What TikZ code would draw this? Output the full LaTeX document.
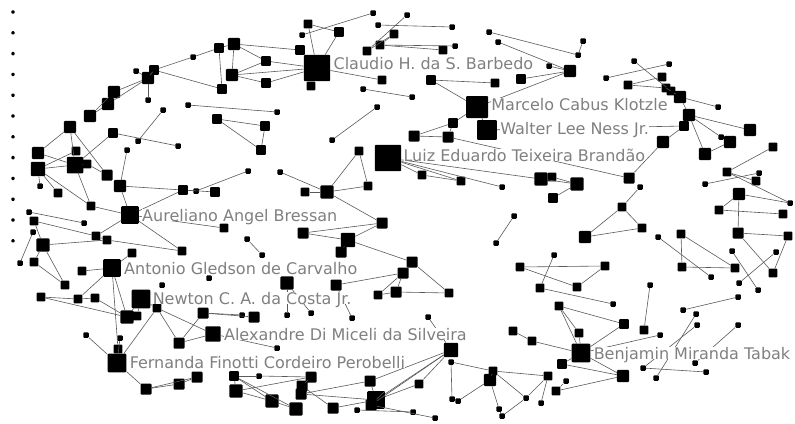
\documentclass[tikz,border=0pt]{standalone}
\usepackage{fontspec}
\setmainfont{DejaVu Sans}
\usetikzlibrary{positioning}
\definecolor{labelgray}{RGB}{128,128,128}
\tikzset{
  sqnode/.style={fill=black, rounded corners=1pt, inner sep=0pt, minimum size=1.1*#1pt},
  tie/.style={draw=black!65, line width=0.6pt},
  authorlbl/.style={text=labelgray, fill=white, inner sep=0pt, text height=12pt, text depth=0pt,
    font=\fontsize{16}{19}\selectfont},
}
\begin{document}
\begin{tikzpicture}[x=1pt,y=-1pt]
  \useasboundingbox (0,0) rectangle (795,423);
  %% loose authors
  \foreach \k in {0,...,11}
    \node[sqnode=3] (iso\k) at (13,{12+20.8*\k}) {};
  %% hubs
  \node[sqnode=24] (claudio) at (317,68) {};
  \node[sqnode=20] (marcelo) at (477,107) {};
  \node[sqnode=18] (walter) at (487,130) {};
  \node[sqnode=24] (luiz) at (388,158) {};
  \node[sqnode=16] (aureliano) at (130,215) {};
  \node[sqnode=16] (antonio) at (112,268) {};
  \node[sqnode=17] (newton) at (141,299) {};
  \node[sqnode=14] (alexandre) at (213,334) {};
  \node[sqnode=17] (fernanda) at (117,363) {};
  \node[sqnode=17] (benjamin) at (581,353) {};
  %% other authors
  \foreach \n/\x/\y/\s in {
    u1/193/57/5, u2/219/48/9, u3/234/44/11, u4/154/70/9, u5/136/71/5, u6/148/78/11,
    u7/148/100/5, u8/114/92/11, u9/108/104/11, u10/90/116/11, u11/222/89/9, u12/232/75/11,
    u13/266/61/9, u14/266/83/9, u15/188/105/5, u16/163/110/5, u17/217/119/9, u18/265/126/9,
    u19/261/150/9, u20/70/127/11, u21/113/133/9, u22/138/141/5, u23/178/146/5, u24/38/153/11,
    u25/76/151/8, u26/38/169/13, u27/75/165/15, u28/87/164/8, u29/107/175/10, u30/40/186/5,
    u31/58/193/8, u32/127/150/5, u33/120/186/11, u34/91/206/8, u35/183/190/9, u36/196/191/5,
    u37/215/192/9, u38/248/171/5, u40/332/140/5, u41/280/172/5, u42/277/112/5,
    c1/308/24/8, c2/302/35/5, c3/339/32/9, c4/373/13/5, c5/407/15/5, c6/378/25/5,
    c7/452/27/5, c8/394/34/8, c9/380/45/8, c10/367/51/8, c11/443/50/8, c12/455/46/5,
    c13/300/50/9, c14/311/86/8, c15/382/80/8, c16/363/89/5, c17/412/97/5, c18/377/107/5,
    c20/359/151/8, c21/305/192/8, c22/327/192/12, c23/368/186/8,
    m1/431/80/9, m2/495/83/8, m3/521/79/9, m4/489/32/5, m5/498/42/5, m6/549/66/5,
    m7/570/71/11, m8/578/55/5, m9/453/123/9, m10/414/136/10, m11/448/137/10, m12/422/175/8,
    m13/461/181/8, m14/502/187/5, m15/541/179/12, m16/552/177/8, m17/577/184/12, m18/553/198/9,
    r1/583/41/5, r2/634/61/5, r3/669/64/5, r4/606/78/5, r5/662/77/8, r6/628/85/8,
    r7/666/88/8, r8/671/91/8, r9/680/97/11, r10/718/107/5, r11/689/115/11, r12/684/126/9,
    r13/750/130/11, r14/663/142/11, r15/721/137/5, r16/730/142/11, r17/705/154/11, r18/629/178/10,
    r19/640/187/5, r20/773/147/8, r21/727/172/8, r22/759/173/5, r23/756/181/8, r24/705/184/5,
    r25/622/207/8, r26/642/228/8, r27/585/237/11, r28/739/194/11, r29/719/210/8, r30/783/214/8,
    r31/790/203/5, r32/738/233/10, r33/788/236/8, r34/681/234/8, r35/658/237/5, r36/554/255/5,
    r37/732/251/5, r38/776/252/5, r39/520/267/8, r40/605/266/8, r41/682/267/8, r42/735/268/8,
    r43/711/277/5, r44/773/273/8, r45/739/283/5, r46/758/290/5, r47/540/288/8, r48/577/287/8,
    r49/613/304/5, r50/738/297/5, r51/650/285/5, r52/683/310/5, r53/696/314/5, r54/559/306/8,
    r55/624/324/9, r56/697/325/5, r57/738/325/5, r58/644/330/8, r59/660/335/5, r60/579/333/8,
    r61/532/341/8, r62/562/364/9, r63/623/376/11, r64/643/368/5, r65/656/378/5, r66/695/363/5,
    r67/706/372/5, r68/548/376/8, r69/566/381/5, r70/556/391/8, r71/526/398/5, r72/541/403/5,
    r73/514/216/5, r74/496/243/5, r75/513/331/8,
    l1/29/212/5, l2/34/221/8, l3/84/223/5, l4/33/232/5, l5/43/245/12, l6/96/236/8,
    l7/107/240/8, l8/182/251/8, l9/224/228/8, l10/247/239/5, l11/132/253/8, l12/20/263/5,
    l13/34/262/8, l14/65/285/8, l15/82/271/8, l16/209/278/5, l17/162/285/5, l18/41/297/8,
    l19/78/299/8, l20/95/298/8, l21/127/317/12, l22/137/316/8, l23/157/308/8, l24/203/313/10,
    l25/242/315/5, l26/254/317/10, l27/179/343/10, l28/86/335/5, l29/120/338/5, l30/118/349/8,
    l31/146/389/10, l32/179/384/10, l33/197/377/10, l34/262/255/5,
    k1/303/233/10, k2/348/240/13, k3/382/223/10, k4/341/252/10, k5/412/262/10, k6/403/273/10,
    k7/336/285/10, k8/378/295/8, k9/396/292/10, k10/449/293/8, k11/287/283/12, k12/287/315/5,
    k13/311/313/5, k14/352/318/5, k15/428/317/5, k16/277/348/5,
    b1/234/376/9, b2/259/376/5, b3/236/391/12, b4/272/401/12, b5/296/409/12, b6/311/377/10,
    b7/302/386/10, b8/301/394/10, b9/333/408/10, b10/370/381/10, b11/376/400/16, b12/371/405/10,
    b13/357/410/5, b14/413/412/5, b15/435/418/5, b16/419/384/8, b17/451/350/13, b18/451/362/5,
    b19/452/399/5, b20/458/401/5, b21/493/371/8, b22/490/380/11, b24/499/409/5, b25/502/416/5}
    \node[sqnode=\s] (\n) at (\x,\y) {};
  %% co-authorship links
  \foreach \a/\b in {
    u1/u2, u2/u3, u4/u1, u2/u11, u4/u11, u3/u12, u3/u13, u12/u13, u12/u14, u5/u6, u6/u7,
    u6/u4, u6/u8, u6/u9, u8/u10, u9/u10, u15/u42, u17/u18, u18/u19, u17/u19, u16/u22,
    u21/u23, u20/u24, u20/u27, u20/u29, u24/u27, u27/u21, u27/u26, u26/u25, u26/u31,
    u26/u34, u27/u34, u27/u28, u28/u29, u30/u26, u32/u33, u33/u35, u33/aureliano, u36/u38,
    u35/u37, u35/u36, u35/aureliano, u40/c18, u41/c22, u13/claudio, u14/claudio,
    u12/claudio, u3/c13,
    claudio/c1, claudio/c3, claudio/c13, claudio/c14, claudio/c15, c1/c3, c2/c4, c6/c7,
    c5/c10, c9/c11, c9/c12, c8/c10, c8/c9, c16/c17, c20/c22, c21/c22, c22/c23, c20/c23,
    c22/k3,
    m1/m2, m1/marcelo, marcelo/m9, m9/m10, m10/m11, m9/m11, marcelo/walter, m4/m8, m5/m7,
    m3/m7, m6/m7, m7/marcelo, luiz/m12, luiz/m13, m12/m13, luiz/m14, luiz/m15, m15/m16,
    m15/m17, m16/m17, m18/m17, r18/m11, walter/r12, r1/m8,
    r2/r8, r4/r3, r6/r5, r6/r7, r7/r8, r8/r9, r9/r10, r9/r11, r11/r13, r11/r15, r11/r17,
    r17/r16, r11/r12, r12/r14, r14/r18, r20/r21, r21/r31, r24/r22, r21/r23, r28/r29,
    r29/r30, r28/r31, r28/r32, r32/r33, r34/r41, r34/r42, r41/r42, r35/r43, r37/r46,
    r38/r45, r33/r44, r32/r44, r19/r25, r25/r27, r27/r26, r25/r26, r36/r47, r39/r40,
    r39/r48, r48/r40, r47/r49, r51/r58, r52/r50, r54/r55, r54/r60, r60/benjamin,
    benjamin/r61, benjamin/r62, benjamin/r63, r62/r63, r70/r63, r68/r71, r68/r72, r69/r70,
    r64/r67, r57/r66, r56/r64, r53/r65, r59/benjamin, r55/benjamin, r73/r74, r75/r61,
    r54/benjamin,
    l1/l3, l2/l6, l2/l5, l6/l7, l5/l7, l7/l8, l6/aureliano, aureliano/u34, aureliano/l8,
    l9/aureliano, l10/l34, l4/l12, l13/l14, l5/l14, l5/l13, antonio/l15, antonio/l11,
    antonio/l21, antonio/l30, antonio/l19, l18/l19, l18/l21, l19/l20, l20/l21, newton/l23,
    newton/l21, l22/newton, l23/l27, l23/alexandre, l23/fernanda, l27/l24, l27/alexandre,
    l24/l25, l24/l26, l28/fernanda, fernanda/l29, l30/fernanda, fernanda/l31, l31/l32,
    l32/l33, l31/l33,
    k1/k2, k1/k3, k2/k3, k2/k5, k2/k4, k5/k10, k6/k7, k6/k8, k6/k9, k8/k9, k9/k10, k6/k5,
    k14/k7, k13/k11, k12/k11, k15/b17, k16/alexandre,
    b17/b11, b17/b10, b17/b16, b17/b12, b18/b19, b18/b21, b22/b20, b22/b24, b21/r71,
    b21/r68, b24/b25, b25/r71, b10/b11, b11/b16, b11/b12, b13/b14, b15/b12, b6/b2, b6/b7,
    b7/b9, b8/b11, b8/b10, b4/b5, b1/b2, b1/b3, b3/b4, b1/b4, b1/b5, b3/b6, b9/b11, b21/b22}
    \draw[tie] (\a) -- (\b);
  %% names
  \node[authorlbl, right=3pt of claudio, yshift=5pt] (claudiolbl) {Claudio H. da S. Barbedo};
  \node[authorlbl, right=3pt of marcelo, yshift=3pt] (marcelolbl) {Marcelo Cabus Klotzle};
  \node[authorlbl, right=3pt of walter, yshift=2pt] (walterlbl) {Walter Lee Ness Jr.};
  \node[authorlbl, right=2pt of luiz, yshift=3pt] (luizlbl) {Luiz Eduardo Teixeira Brandão};
  \node[authorlbl, right=3pt of aureliano] (aurelianolbl) {Aureliano Angel Bressan};
  \node[authorlbl, right=3pt of antonio] (antoniolbl) {Antonio Gledson de Carvalho};
  \node[authorlbl, right=2pt of newton, yshift=1pt] (newtonlbl) {Newton C. A. da Costa Jr.};
  \node[authorlbl, right=3pt of alexandre] (alexandrelbl) {Alexandre Di Miceli da Silveira};
  \node[authorlbl, right=3pt of fernanda, yshift=1pt] (fernandalbl) {Fernanda Finotti Cordeiro Perobelli};
  \node[authorlbl, right=3pt of benjamin] (benjaminlbl) {Benjamin Miranda Tabak};
\end{tikzpicture}
\end{document}
